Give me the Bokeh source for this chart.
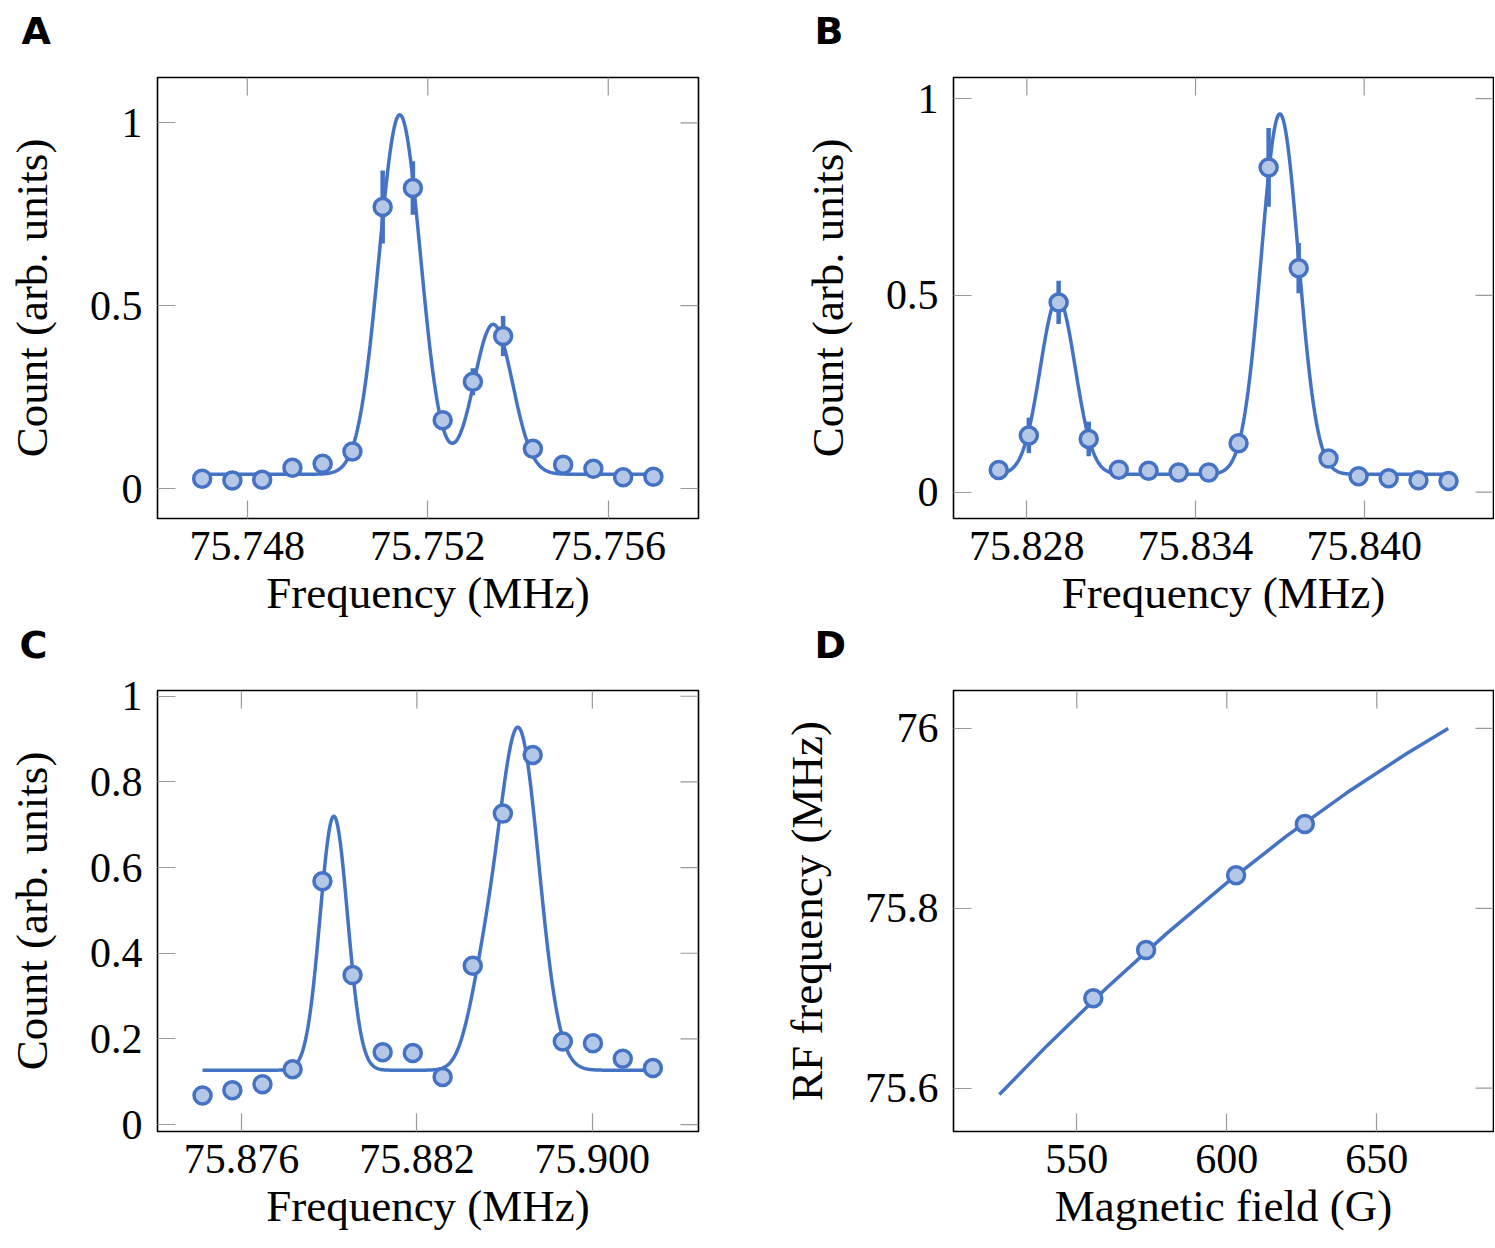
import numpy as np
from bokeh.plotting import figure
from bokeh.layouts import column, row
from bokeh.models import ColumnDataSource, FixedTicker, Range1d
from bokeh.core.properties import value
from bokeh.embed import file_html
from bokeh.resources import INLINE

# ---------------- data ----------------
# Panel A
a_freq = [75.74700, 75.74767, 75.74833, 75.74900, 75.74967, 75.75033, 75.75100, 75.75167,
          75.75233, 75.75300, 75.75367, 75.75433, 75.75500, 75.75567, 75.75633, 75.75700]
a_count = [0.027, 0.022, 0.024, 0.057, 0.068, 0.101, 0.770, 0.822,
           0.187, 0.292, 0.417, 0.109, 0.065, 0.054, 0.031, 0.032]
a_err = [0.010, 0.010, 0.010, 0.015, 0.015, 0.020, 0.100, 0.073,
         0.020, 0.037, 0.055, 0.020, 0.015, 0.015, 0.010, 0.010]
a_fit_baseline = 0.039
a_fit_center = [75.75138, 75.75345]
a_fit_height = [0.983, 0.410]
a_fit_sigma = [0.00046, 0.00043]

# Panel B
b_freq = [75.82700, 75.82807, 75.82913, 75.83020, 75.83127, 75.83233, 75.83340, 75.83447,
          75.83553, 75.83660, 75.83767, 75.83873, 75.83980, 75.84087, 75.84193, 75.84300]
b_count = [0.056, 0.144, 0.482, 0.135, 0.057, 0.054, 0.050, 0.050,
           0.124, 0.825, 0.569, 0.085, 0.040, 0.035, 0.030, 0.028]
b_err = [0.010, 0.045, 0.055, 0.044, 0.010, 0.010, 0.010, 0.010,
         0.020, 0.100, 0.064, 0.020, 0.010, 0.010, 0.010, 0.010]
b_fit_baseline = 0.045
b_fit_center = [75.82910, 75.83700]
b_fit_height = [0.448, 0.916]
b_fit_sigma = [0.00062, 0.00066]

# Panel C
c_freq = [75.87467, 75.87569, 75.87672, 75.87775, 75.87877, 75.87980, 75.88083, 75.88186,
          75.88288, 75.88391, 75.88494, 75.88596, 75.88699, 75.88802, 75.88904, 75.89007]
c_count = [0.068, 0.080, 0.094, 0.129, 0.568, 0.349, 0.169, 0.167,
           0.111, 0.371, 0.726, 0.863, 0.194, 0.190, 0.154, 0.132]
c_fit_baseline = 0.127
c_fit_center = [75.87916, 75.88420, 75.88547]
c_fit_height = [0.593, 0.140, 0.795]
c_fit_sigma = [0.00047, 0.00050, 0.00070]

# Panel D
d_field = [555.5, 573.1, 603.1, 626.0]
d_rf = [75.7000, 75.7535, 75.8367, 75.8938]
d_fit_field = [524.2, 540, 560, 580, 600, 620, 640, 660, 673.8]
d_fit_rf = [75.593, 75.647, 75.7116, 75.7721, 75.8283, 75.8805, 75.9284, 75.9722, 76.000]

# tick labels
a_xticks = [75.748, 75.752, 75.756]
a_xticklabels = ["75.748", "75.752", "75.756"]
b_xticks = [75.828, 75.834, 75.840]
b_xticklabels = ["75.828", "75.834", "75.840"]
c_xticks = [75.876, 75.882, 75.888]
c_xticklabels = ["75.876", "75.882", "75.900"]
d_xticks = [550, 600, 650]
d_xticklabels = ["550", "600", "650"]
ab_yticks = [0, 0.5, 1]
ab_yticklabels = ["0", "0.5", "1"]
c_yticks = [0, 0.2, 0.4, 0.6, 0.8, 1]
c_yticklabels = ["0", "0.2", "0.4", "0.6", "0.8", "1"]
d_yticks = [75.6, 75.8, 76.0]
d_yticklabels = ["75.6", "75.8", "76"]

panel_letters = ["A", "B", "C", "D"]

# ---------------- style ----------------
LINE = "#4472c4"
FILL = "#b4c7e7"
TICK = "#9a9a9a"
SERIF = "Liberation Serif"
TICK_FS = "42px"
LABEL_FS = "45px"
TICK_LEN = 18


def gauss_sum(x, base, centers, heights, sigmas):
    y = np.full_like(x, base, dtype=float)
    for c, h, s in zip(centers, heights, sigmas):
        y = y + h * np.exp(-0.5 * ((x - c) / s) ** 2)
    return y


def make_panel(xr, yr, xt, xtl, yt, ytl, xlabel, ylabel, mbl, mbr, mbt, mbb, fw, fh):
    p = figure(frame_width=fw, frame_height=fh, title=None,
               x_range=Range1d(*xr), y_range=Range1d(*yr),
               output_backend="svg", toolbar_location=None,
               min_border_left=mbl, min_border_right=mbr,
               min_border_top=mbt, min_border_bottom=mbb,
               background_fill_color="white", border_fill_color="white")
    p.grid.visible = False
    p.outline_line_color = "black"
    p.outline_line_width = 1.6
    p.outline_line_alpha = 1.0

    xa = p.xaxis[0]
    ya = p.yaxis[0]
    xa.ticker = FixedTicker(ticks=xt)
    ya.ticker = FixedTicker(ticks=yt)
    xa.major_label_overrides = {t: l for t, l in zip(xt, xtl)}
    ya.major_label_overrides = {t: l for t, l in zip(yt, ytl)}
    xa.axis_label = xlabel
    ya.axis_label = ylabel
    for ax in (xa, ya):
        ax.major_tick_in = TICK_LEN
        ax.major_tick_out = 0
        ax.minor_tick_line_color = None
        ax.major_tick_line_color = TICK
        ax.major_tick_line_width = 1.2
        ax.axis_line_color = None
        ax.major_label_text_font = SERIF
        ax.major_label_text_font_size = TICK_FS
        ax.major_label_text_color = "black"
        ax.axis_label_text_font = SERIF
        ax.axis_label_text_font_size = LABEL_FS
        ax.axis_label_text_font_style = "normal"
        ax.axis_label_text_color = "black"
    xa.major_label_standoff = 13
    xa.axis_label_standoff = 5
    ya.major_label_standoff = 15
    ya.axis_label_standoff = 30

    # mirrored inward ticks on the top and right edges (lengths derived from the ranges)
    dy = TICK_LEN * (yr[1] - yr[0]) / fh
    dx = TICK_LEN * (xr[1] - xr[0]) / fw
    p.segment(x0=xt, y0=[yr[1]] * len(xt), x1=xt, y1=[yr[1] - dy] * len(xt),
              line_color=TICK, line_width=1.2)
    p.segment(x0=[xr[1]] * len(yt), y0=yt, x1=[xr[1] - dx] * len(yt), y1=yt,
              line_color=TICK, line_width=1.2)
    return p


def letter_strip(w, h, letters, lxs, ly):
    s = figure(frame_width=w, frame_height=h, title=None,
               x_range=Range1d(0, w), y_range=Range1d(h, 0),
               output_backend="svg", toolbar_location=None, min_border=0,
               x_axis_location=None, y_axis_location=None,
               background_fill_color="white", border_fill_color="white")
    s.grid.visible = False
    s.outline_line_color = None
    s.text(x=lxs, y=[ly] * len(letters), text=letters, text_font=value("DejaVu Sans"),
           text_font_style="bold", text_font_size="38px", text_color="black",
           text_baseline="middle", text_align="left")
    return s


def add_scan(p, freq, count, err, base, centers, heights, sigmas):
    xs = np.linspace(freq[0], freq[-1], 600)
    ys = gauss_sum(xs, base, centers, heights, sigmas)
    p.line(xs, ys, line_color=LINE, line_width=3.5)
    if err is not None:
        src = ColumnDataSource(dict(x=freq,
                                    lo=[c - e for c, e in zip(count, err)],
                                    hi=[c + e for c, e in zip(count, err)]))
        p.segment(x0="x", y0="lo", x1="x", y1="hi", source=src, line_color=LINE, line_width=4.5)
    p.scatter(freq, count, size=17, fill_color=FILL, line_color=LINE, line_width=3.5)


FW_L, FW_R, FH = 541, 540, 441
ML_L, MR_L = 157, 10      # left column borders
ML_R, MR_R = 245, 1       # right column borders
W_L = ML_L + FW_L + MR_L
W_R = ML_R + FW_R + MR_R
W_ALL = W_L + W_R

pa = make_panel((75.74601, 75.75800), (-0.082, 1.124), a_xticks, a_xticklabels,
                ab_yticks, ab_yticklabels, "Frequency (MHz)", "Count (arb. units)",
                ML_L, MR_L, 25, 104, FW_L, FH)
add_scan(pa, a_freq, a_count, a_err, a_fit_baseline, a_fit_center, a_fit_height, a_fit_sigma)

pb = make_panel((75.82539, 75.84460), (-0.0672, 1.0536), b_xticks, b_xticklabels,
                ab_yticks, ab_yticklabels, "Frequency (MHz)", "Count (arb. units)",
                ML_R, MR_R, 25, 104, FW_R, FH)
add_scan(pb, b_freq, b_count, b_err, b_fit_baseline, b_fit_center, b_fit_height, b_fit_sigma)

pc = make_panel((75.87313, 75.89163), (-0.0161, 1.0134), c_xticks, c_xticklabels,
                c_yticks, c_yticklabels, "Frequency (MHz)", "Count (arb. units)",
                ML_L, MR_L, 20, 104, FW_L, FH)
add_scan(pc, c_freq, c_count, None, c_fit_baseline, c_fit_center, c_fit_height, c_fit_sigma)

pd_ = make_panel((508.9, 688.9), (75.5518, 76.0422), d_xticks, d_xticklabels,
                 d_yticks, d_yticklabels, "Magnetic field (G)", "RF frequency (MHz)",
                 ML_R, MR_R, 20, 104, FW_R, FH)
pd_.line(d_fit_field, d_fit_rf, line_color=LINE, line_width=3.5)
pd_.scatter(d_field, d_rf, size=17, fill_color=FILL, line_color=LINE, line_width=3.5)

top_strip = letter_strip(W_ALL, 52, panel_letters[:2], [21, W_L + 106], 30)
mid_strip = letter_strip(W_ALL, 48, panel_letters[2:], [19, W_L + 106], 22)

layout = column(top_strip, row(pa, pb), mid_strip, row(pc, pd_))

open("out.html", "w").write(file_html(layout, INLINE))
